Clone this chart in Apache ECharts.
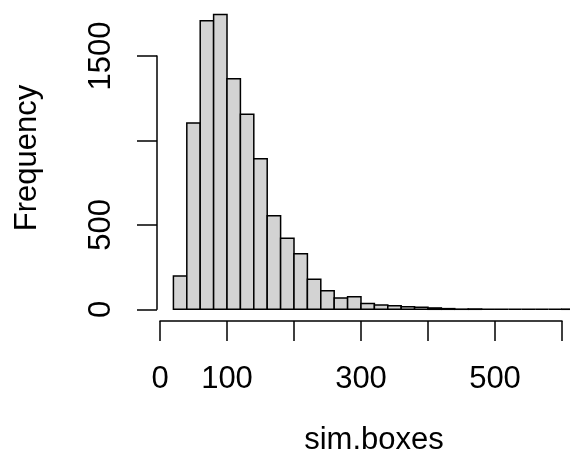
<!DOCTYPE html>
<html>
<head>
<meta charset="utf-8">
<script src="https://cdn.jsdelivr.net/npm/echarts@6/dist/echarts.min.js"></script>
<style>
  html, body { margin: 0; padding: 0; background: #fff; }
  #main { width: 570px; height: 468px; }
</style>
</head>
<body>
<div id="main"></div>
<script>
// histogram bins (left edge) and counts, bin width 20
const binWidth = 20
const binStarts = [20, 40, 60, 80, 100, 120, 140, 160, 180, 200, 220, 240, 260, 280, 300,
  320, 340, 360, 380, 400, 420, 440, 460, 480, 500, 520, 540, 560, 580, 600]
const counts = [197, 1102, 1708, 1745, 1364, 1154, 891, 554, 420, 329, 178, 110, 67, 75, 35,
  25, 21, 15, 12, 8, 4, 1, 2, 0, 0, 0, 0, 0, 0, 1]
// tick labels (R drops the ones that would overlap)
const xTicks = [0, 100, 200, 300, 400, 500, 600]
const xTickLabels = ['0', '100', '', '300', '', '500', '']
const yTicks = [0, 500, 1000, 1500]
const yTickLabels = ['0', '500', '', '1500']

const font = 'Liberation Sans, Arial, sans-serif'
const chart = echarts.init(document.getElementById('main'))

// 柱子用 custom 画，保证相邻柱子贴在一起
function renderBin(params, api) {
  const start = api.value(0)
  const count = api.value(1)
  const p0 = api.coord([start, 0])
  const p1 = api.coord([start + binWidth, count])
  return {
    type: 'rect',
    shape: { x: p0[0], y: p1[1], width: p1[0] - p0[0], height: p0[1] - p1[1] },
    style: { fill: '#d3d3d3', stroke: '#000', lineWidth: 1.5 }
  }
}

const axisText = { color: '#000', fontFamily: font, fontSize: 31 }

const option = {
  animation: false,
  grid: [
    // plot region (cut off at the right edge of the picture)
    { left: 157, top: 2.6, width: 413, height: 306.7 },
    // x axis (0..600)
    { left: 160, top: 271, width: 402, height: 50 },
    // y axis (0..1500)
    { left: 157, top: 56, width: 50, height: 253.3 }
  ],
  xAxis: [
    { gridIndex: 0, type: 'value', min: -4.5, max: 612, show: false },
    {
      gridIndex: 1, type: 'value', min: 0, max: 600, interval: 100, position: 'bottom',
      axisLine: { show: true, lineStyle: { color: '#000', width: 1.5 } },
      axisTick: { show: true, length: 20, lineStyle: { color: '#000', width: 1.5 } },
      splitLine: { show: false },
      axisLabel: Object.assign({
        margin: 43,
        showMinLabel: true, showMaxLabel: true,
        formatter: v => xTickLabels[xTicks.indexOf(v)] || ''
      }, axisText)
    },
    { gridIndex: 2, type: 'value', show: false }
  ],
  yAxis: [
    { gridIndex: 0, type: 'value', min: 0, max: 1815, show: false },
    { gridIndex: 1, type: 'value', show: false },
    {
      gridIndex: 2, type: 'value', min: 0, max: 1500, interval: 500, position: 'left',
      axisLine: { show: true, lineStyle: { color: '#000', width: 1.5 } },
      axisTick: { show: true, length: 20, lineStyle: { color: '#000', width: 1.5 } },
      splitLine: { show: false },
      axisLabel: Object.assign({
        margin: 40, rotate: 90,
        showMinLabel: true, showMaxLabel: true,
        formatter: v => yTickLabels[yTicks.indexOf(v)] || ''
      }, axisText)
    }
  ],
  graphic: [
    {
      type: 'text', x: 27, y: 158, rotation: Math.PI / 2,
      style: { text: 'Frequency', fill: '#000', font: '31px ' + font, align: 'center', verticalAlign: 'middle' }
    },
    {
      type: 'text', x: 374, y: 440,
      style: { text: 'sim.boxes', fill: '#000', font: '31px ' + font, align: 'center', verticalAlign: 'middle' }
    }
  ],
  series: [{
    type: 'custom',
    xAxisIndex: 0,
    yAxisIndex: 0,
    renderItem: renderBin,
    encode: { x: 0, y: 1 },
    data: binStarts.map((s, i) => [s, counts[i]])
  }]
}
chart.setOption(option)
</script>
</body>
</html>
